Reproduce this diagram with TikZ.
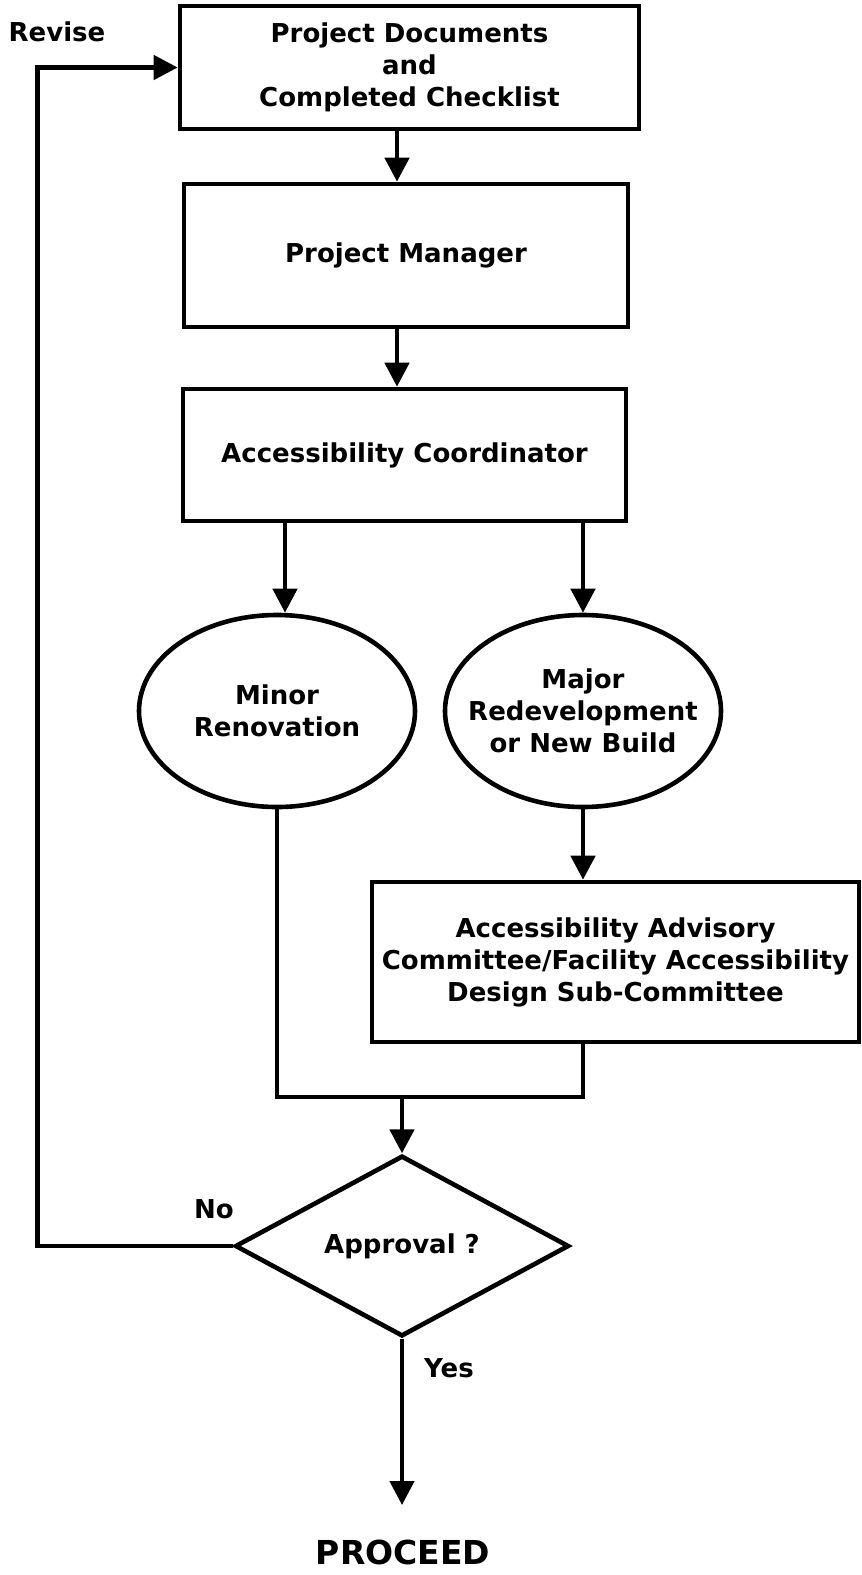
\documentclass[tikz,border=0pt]{standalone}
\usepackage{fontspec}
\setmainfont{DejaVu Sans}
\usetikzlibrary{arrows.meta, shapes.geometric}

\begin{document}
\begin{tikzpicture}[x=0.5pt, y=-0.5pt, line width=2.3pt,
  >={Triangle[length=12pt, width=12pt]},
  every node/.style={font=\fontsize{13}{16}\selectfont\bfseries, align=center},
  stepbox/.style={draw, rectangle, inner sep=0pt},
  choice/.style={draw, ellipse, inner xsep=-12pt, inner ysep=0pt, minimum width=138pt, minimum height=96pt},
  decision/.style={draw, diamond, inner sep=0pt, minimum width=167pt, minimum height=89.5pt},
  arr/.style={->}]

% Canvas
\useasboundingbox (0,0) rectangle (862,1575);

% Boxes
\node[stepbox, minimum width=229.5pt, minimum height=61.5pt] (docs) at (409.5,67.5)
  {Project Documents\\and\\Completed Checklist};
\node[stepbox, minimum width=222pt, minimum height=71.5pt] (pm) at (406,255.5) {Project Manager};
\node[stepbox, minimum width=221.5pt, minimum height=66pt] (coord) at (404.5,455) {Accessibility Coordinator};

% Ellipses
\node[choice] (minor) at (277,711) {Minor\\Renovation};
\node[choice] (major) at (583,711) {Major\\Redevelopment\\or New Build};

% Committee box
\node[stepbox, minimum width=243.5pt, minimum height=80pt] (committee) at (615.5,962)
  {Accessibility Advisory\\Committee/Facility Accessibility\\Design Sub-Committee};

% Decision
\node[decision] (approval) at (402,1246) {Approval ?};

% Labels
\node (revise) at (57,32) {Revise};
\node (no) at (214,1209) {No};
\node (yes) at (449,1368) {Yes};
\node[font=\fontsize{16.5}{20}\selectfont\bfseries] (proceed) at (403,1552) {PROCEED};

\coordinate (join) at (402,1097);
\coordinate (out) at (402,1505);

% Connectors
\draw[arr] ([xshift=-4.5pt]pm.north |- docs.south) -- ([xshift=-4.5pt]pm.north);
\draw[arr] ([xshift=-3.75pt]coord.north |- pm.south) -- ([xshift=-3.75pt]coord.north);
\draw[arr] ([xshift=4pt]minor.north |- coord.south) -- ([xshift=4pt]minor.north);
\draw[arr] (major.north |- coord.south) -- (major.north);
\draw[arr] (major.south) -- (major.south |- committee.north);
\draw (minor.south) |- (major.south |- join) -- (major.south |- committee.south);
\draw[arr] (join) -- (approval.north);
\draw[arr] (approval.west) -- ++(-195,0) |- (docs.west);
\draw[arr] (approval.south) -- (out);

\end{tikzpicture}
\end{document}
